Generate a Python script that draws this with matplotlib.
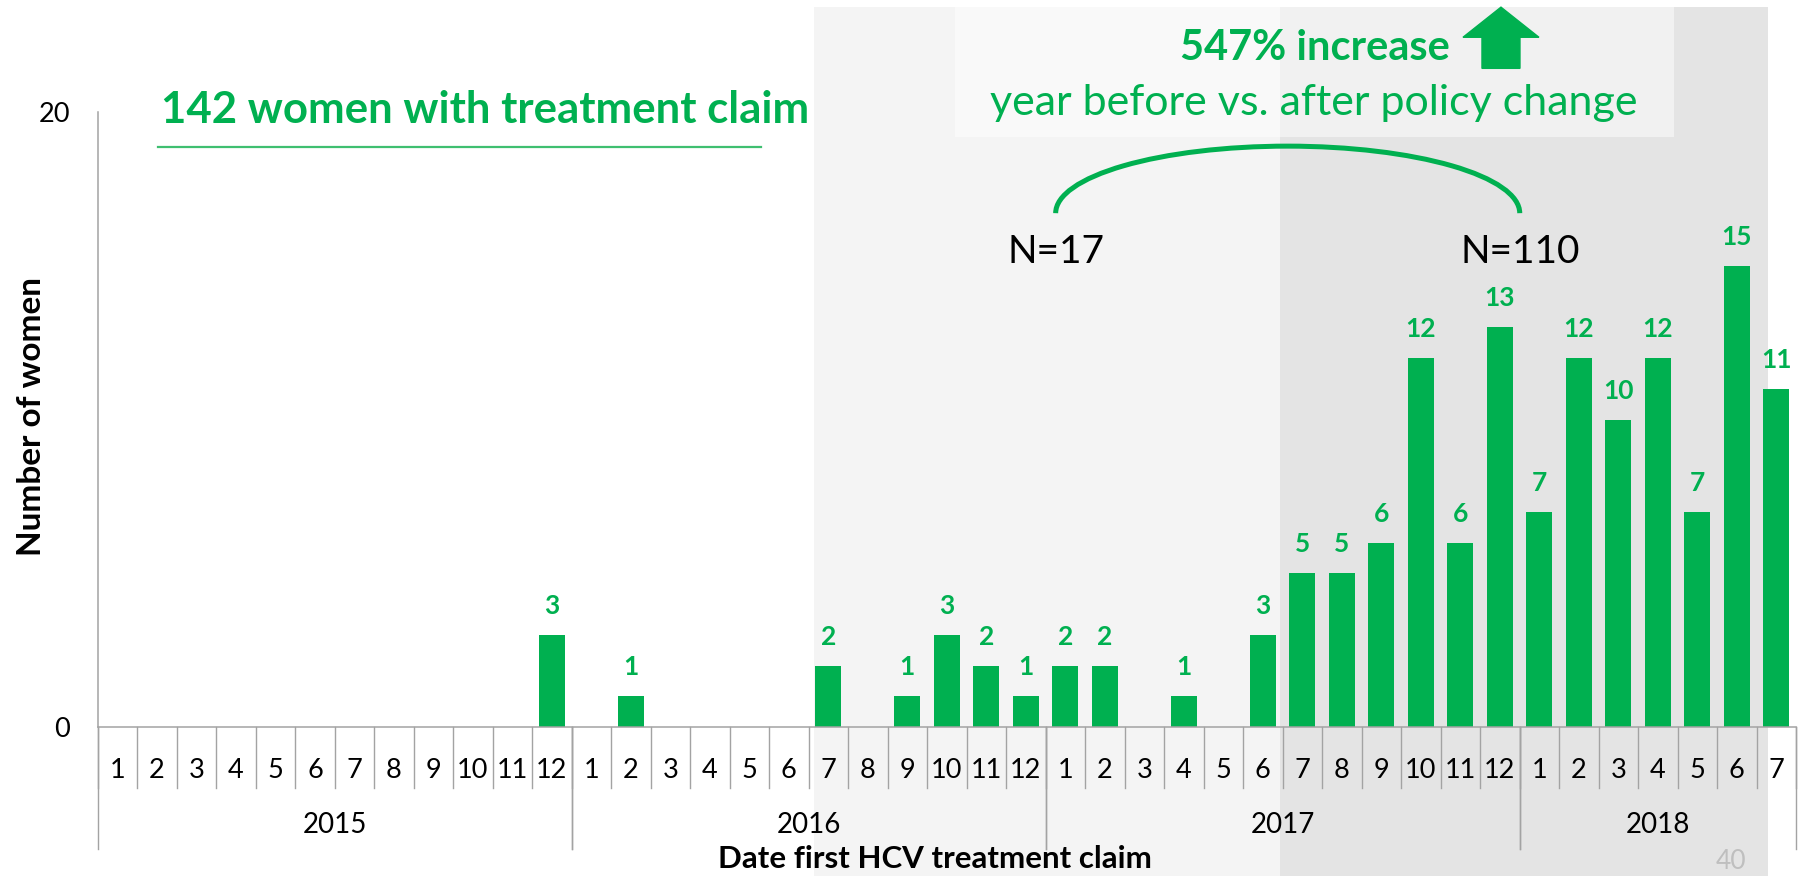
import matplotlib.pyplot as plt
from matplotlib.patches import Rectangle, Arc, FancyArrow

# monthly counts of women with a first HCV treatment claim
year_labels = ["2015", "2016", "2017", "2018"]
counts_2015 = [0, 0, 0, 0, 0, 0, 0, 0, 0, 0, 0, 3]
counts_2016 = [0, 1, 0, 0, 0, 0, 2, 0, 1, 3, 2, 1]
counts_2017 = [2, 2, 0, 1, 0, 3, 5, 5, 6, 12, 6, 13]
counts_2018 = [7, 12, 10, 12, 7, 15, 11]

total_label = "142 women with treatment claim"
increase_label = "547% increase"
compare_label = "year before vs. after policy change"
n_before = "N=17"
n_after = "N=110"

GREEN = "#00b050"
AXIS_GRAY = "#a3a3a3"

plt.rcParams['font.family'] = ['Lato', 'DejaVu Sans']


def draw_chart():
    per_year = [counts_2015, counts_2016, counts_2017, counts_2018]
    counts = []
    months = []
    year_spans = []
    for vals in per_year:
        start = len(counts)
        counts += vals
        months += [str(m + 1) for m in range(len(vals))]
        year_spans.append((start - 0.5, len(counts) - 0.5))
    x = list(range(len(counts)))

    fig = plt.figure(figsize=(18.03, 8.76), dpi=100)
    ax = fig.add_axes([0.05419, 0.17009, 0.94193, 0.70205])
    ax.set_facecolor("none")

    # background shading (year before / after policy change)
    ax.add_patch(Rectangle((17.63, -4.9), 41.79 - 17.63, 23.41 + 4.9,
                           facecolor="#f4f4f4", edgecolor="none",
                           zorder=0, clip_on=False))
    ax.add_patch(Rectangle((29.43, -4.9), 41.79 - 29.43, 23.41 + 4.9,
                           facecolor="#e4e4e4", edgecolor="none",
                           zorder=0, clip_on=False))
    ax.add_patch(Rectangle((21.21, 19.18), 39.41 - 21.21, 23.41 - 19.18,
                           facecolor="white", alpha=0.5, edgecolor="none",
                           zorder=1, clip_on=False))

    ax.bar(x, counts, width=0.66, color=GREEN, zorder=2)
    for xi, c in zip(x, counts):
        if c > 0:
            ax.annotate(str(c), (xi, c), xytext=(0, 15), textcoords="offset points",
                        ha="center", va="baseline", fontsize=19,
                        fontweight="bold", color=GREEN)

    ax.set_xlim(-0.5, len(counts) - 0.5)
    ax.set_ylim(0, 20)

    for s in ["top", "right"]:
        ax.spines[s].set_visible(False)
    for s in ["left", "bottom"]:
        ax.spines[s].set_color(AXIS_GRAY)
        ax.spines[s].set_linewidth(1.1)

    ax.set_yticks([0, 20])
    ax.tick_params(axis="y", length=0, pad=20, labelsize=19.5)
    ax.set_xticks(x, labels=months)
    ax.tick_params(axis="x", length=0, pad=22.5, labelsize=19.5)

    # category separators below the axis
    tr = ax.get_xaxis_transform()
    for k in range(len(counts) + 1):
        ax.plot([k - 0.5, k - 0.5], [0, -0.0992], color=AXIS_GRAY,
                lw=1.0, transform=tr, clip_on=False)
    for (a, b), yl in zip(year_spans, year_labels):
        ax.plot([a, a], [0, -0.198], color=AXIS_GRAY, lw=1.0,
                transform=tr, clip_on=False)
        ax.plot([b, b], [0, -0.198], color=AXIS_GRAY, lw=1.0,
                transform=tr, clip_on=False)
        ax.text((a + b) / 2, -0.159, yl, transform=tr, ha="center",
                va="center", fontsize=20)

    fig.text(0.5186, 0.0091, "Date first HCV treatment claim", ha="center",
             va="baseline", fontsize=22.5, fontweight="bold")
    fig.text(0.0172, 0.524, "Number of women", rotation=90, ha="center",
             va="center", fontsize=24, fontweight="bold")
    fig.text(0.960, 0.016, "40", ha="center", va="center", fontsize=19,
             color="#bfbfbf")

    # annotations
    ax.text(1.10, 19.64, total_label, ha="left", va="baseline", fontsize=31.5,
            fontweight="bold", color=GREEN)
    ax.plot([1.03, 16.29], [18.86, 18.86], color="#3fbf70", lw=1.6,
            clip_on=False)
    ax.text(30.32, 21.68, increase_label, ha="center", va="baseline",
            fontsize=30, fontweight="bold", color=GREEN, zorder=4)
    ax.text(30.30, 19.9, compare_label, ha="center", va="baseline",
            fontsize=31, color=GREEN, zorder=4)
    ax.add_patch(FancyArrow(35.03, 21.42, 0, 1.99, width=0.962,
                            head_width=1.924, head_length=0.98,
                            length_includes_head=True, color=GREEN,
                            zorder=4, clip_on=False))
    ax.add_patch(Arc((29.63, 16.71), 11.75, 4.36, theta1=0, theta2=180,
                     color=GREEN, lw=3.6, zorder=4))
    ax.text(23.76, 15.08, n_before, ha="center", va="baseline", fontsize=28)
    ax.text(35.51, 15.08, n_after, ha="center", va="baseline", fontsize=28)

    plt.savefig("out.png", dpi=100)


if __name__ == "__main__":
    draw_chart()
